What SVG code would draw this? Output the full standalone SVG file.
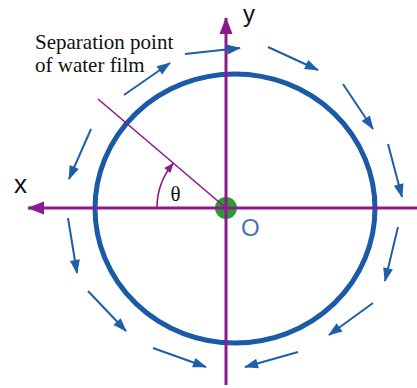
<svg xmlns="http://www.w3.org/2000/svg" width="417" height="388" viewBox="0 0 417 388">
<style>
.flow{stroke:#1f5ea8;stroke-width:2;fill:none;marker-end:url(#bh)}
.axis{stroke:#8c1a8e;stroke-width:3;fill:none;marker-end:url(#ph)}
.thin{stroke:#8c1a8e;stroke-width:1.6;fill:none}
.serif{font-family:"Liberation Serif","Times New Roman",serif;fill:#111}
.sans{font-family:"Liberation Sans",Arial,sans-serif;fill:#111}
</style>
<defs>
<marker id="bh" markerUnits="userSpaceOnUse" markerWidth="14" markerHeight="10" refX="13" refY="5" orient="auto" overflow="visible">
<path d="M0,0 L14,5 L0,10 Z" fill="#1f5ea8"/>
</marker>
<marker id="ph" markerUnits="userSpaceOnUse" markerWidth="17" markerHeight="13" refX="16" refY="6.5" orient="auto" overflow="visible">
<path d="M0,0 L17,6.5 L0,13 Z" fill="#8c1a8e"/>
</marker>
<marker id="ah" markerUnits="userSpaceOnUse" markerWidth="10" markerHeight="8" refX="9" refY="4" orient="auto" overflow="visible">
<path d="M0,0 L10,4 L0,8 Z" fill="#8c1a8e"/>
</marker>
</defs>
<rect width="417" height="388" fill="#fff"/>
<g id="cylinder">
<ellipse cx="235" cy="208.5" rx="140" ry="134.5" fill="none" stroke="#1a5aa6" stroke-width="5"/>
</g>
<g id="origin">
<circle cx="226" cy="208" r="11" fill="#2e9a32"/>
</g>
<g id="axes">
<line class="axis" x1="417" y1="208" x2="28" y2="208"/>
<line class="axis" x1="226" y1="385" x2="226" y2="18"/>
</g>
<g id="separation">
<line class="thin" x1="98" y1="99" x2="226" y2="208"/>
<path class="thin" d="M157,208 A69,69 0 0 1 173.1,163.6" marker-end="url(#ah)"/>
</g>
<g id="connectors">
<line class="flow" x1="124" y1="95" x2="170" y2="63"/>
<line class="flow" x1="91" y1="129" x2="69" y2="179"/>
<line class="flow" x1="185" y1="54" x2="240" y2="48"/>
<line class="flow" x1="268" y1="47" x2="318" y2="70"/>
<line class="flow" x1="343" y1="84" x2="373" y2="129"/>
<line class="flow" x1="388" y1="144" x2="402" y2="197"/>
<line class="flow" x1="398" y1="227" x2="385" y2="281"/>
<line class="flow" x1="373" y1="303" x2="329" y2="335"/>
<line class="flow" x1="298" y1="352" x2="245" y2="367"/>
<line class="flow" x1="68" y1="218" x2="77" y2="273"/>
<line class="flow" x1="88" y1="291" x2="126" y2="331"/>
<line class="flow" x1="153" y1="348" x2="206" y2="367"/>
</g>
<g id="labels">
<text class="serif" x="35" y="49" font-size="21">Separation point</text>
<text class="serif" x="35" y="72" font-size="21">of water film</text>
<text class="serif" x="175.5" y="201" font-size="21" text-anchor="middle">θ</text>
<text class="sans" x="14" y="193" font-size="26">x</text>
<text class="sans" x="243" y="22" font-size="24">y</text>
<text class="sans" x="241" y="236" font-size="24" style="fill:#4a74b4">O</text>
</g>
</svg>
